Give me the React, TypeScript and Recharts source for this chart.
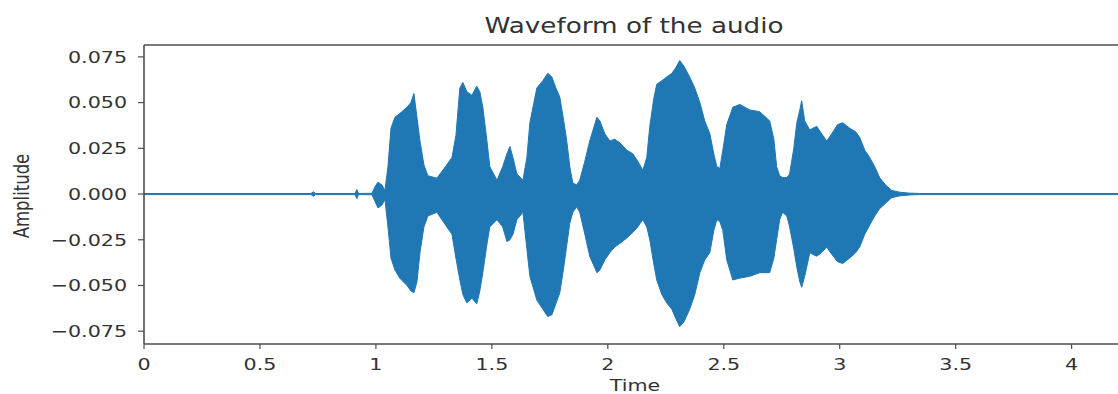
import { AreaChart, Area, XAxis, YAxis, ReferenceLine } from "recharts";

// envelope of the waveform (seconds, upper / lower amplitude)
const times = [
  0, 0.72, 0.73, 0.74, 0.91, 0.918, 0.925, 0.983, 0.996, 1.009, 1.026, 1.039,
  1.052, 1.065, 1.082, 1.103, 1.134, 1.151, 1.164, 1.177, 1.19, 1.207, 1.224,
  1.263, 1.306, 1.328, 1.345, 1.362, 1.375, 1.392, 1.414, 1.435, 1.448, 1.461,
  1.478, 1.491, 1.522, 1.547, 1.565, 1.578, 1.591, 1.608, 1.634, 1.651, 1.664,
  1.694, 1.72, 1.741, 1.759, 1.776, 1.793, 1.81, 1.823, 1.836, 1.849, 1.866,
  1.879, 1.901, 1.922, 1.953, 1.966, 1.987, 2.009, 2.03, 2.052, 2.082, 2.108,
  2.129, 2.151, 2.168, 2.181, 2.198, 2.211, 2.233, 2.254, 2.276, 2.293, 2.31,
  2.328, 2.353, 2.375, 2.397, 2.418, 2.44, 2.457, 2.47, 2.483, 2.496, 2.513,
  2.539, 2.569, 2.612, 2.655, 2.698, 2.716, 2.728, 2.741, 2.754, 2.772, 2.784,
  2.802, 2.815, 2.828, 2.836, 2.849, 2.871, 2.884, 2.901, 2.922, 2.944, 2.966,
  2.991, 3.013, 3.043, 3.069, 3.086, 3.108, 3.129, 3.151, 3.172, 3.198, 3.224,
  3.259, 3.302, 3.345, 4.2,
];

const upper = [
  0.0003, 0.0003, 0.0012, 0.0003, 0.0003, 0.0025, 0.0003, 0.0004, 0.004, 0.0065,
  0.005, 0.002, 0.015, 0.036, 0.042, 0.044, 0.0475, 0.05, 0.055, 0.042, 0.029,
  0.016, 0.01, 0.0087, 0.016, 0.02, 0.032, 0.058, 0.061, 0.056, 0.054, 0.059,
  0.056, 0.0475, 0.03, 0.015, 0.0076, 0.015, 0.022, 0.026, 0.02, 0.011, 0.0076,
  0.02, 0.039, 0.058, 0.062, 0.066, 0.064, 0.058, 0.053, 0.04, 0.029, 0.015,
  0.006, 0.005, 0.0076, 0.018, 0.029, 0.042, 0.04, 0.033, 0.029, 0.03, 0.028,
  0.024, 0.022, 0.018, 0.013, 0.02, 0.037, 0.052, 0.06, 0.062, 0.064, 0.066,
  0.069, 0.073, 0.07, 0.064, 0.058, 0.05, 0.04, 0.033, 0.022, 0.015, 0.014,
  0.024, 0.038, 0.0475, 0.049, 0.046, 0.045, 0.04, 0.03, 0.015, 0.01, 0.009,
  0.009, 0.011, 0.025, 0.039, 0.046, 0.051, 0.04, 0.035, 0.036, 0.037, 0.033,
  0.029, 0.033, 0.038, 0.039, 0.036, 0.034, 0.031, 0.024, 0.02, 0.015, 0.009,
  0.005, 0.002, 0.001, 0.0005, 0.0003, 0.0003,
];

const lower = [
  -0.0003, -0.0003, -0.0012, -0.0003, -0.0003, -0.0025, -0.0003, -0.0004,
  -0.004, -0.0076, -0.006, -0.003, -0.018, -0.035, -0.0415, -0.046, -0.05,
  -0.053, -0.054, -0.048, -0.032, -0.018, -0.012, -0.01, -0.018, -0.022, -0.035,
  -0.047, -0.055, -0.0595, -0.057, -0.06, -0.053, -0.043, -0.028, -0.018,
  -0.014, -0.018, -0.026, -0.025, -0.022, -0.014, -0.01, -0.03, -0.045, -0.058,
  -0.063, -0.067, -0.066, -0.06, -0.054, -0.04, -0.028, -0.016, -0.01, -0.007,
  -0.01, -0.022, -0.034, -0.043, -0.0415, -0.036, -0.032, -0.029, -0.027,
  -0.024, -0.021, -0.018, -0.014, -0.018, -0.025, -0.038, -0.047, -0.055,
  -0.0595, -0.063, -0.068, -0.0725, -0.07, -0.063, -0.055, -0.043, -0.036,
  -0.032, -0.02, -0.014, -0.015, -0.02, -0.036, -0.047, -0.046, -0.045, -0.043,
  -0.043, -0.035, -0.025, -0.014, -0.01, -0.012, -0.018, -0.03, -0.04, -0.048,
  -0.051, -0.045, -0.032, -0.033, -0.034, -0.032, -0.029, -0.033, -0.037,
  -0.038, -0.035, -0.032, -0.029, -0.022, -0.017, -0.012, -0.008, -0.005,
  -0.002, -0.001, -0.0005, -0.0003, -0.0003,
];

const xTicks = [0, 0.5, 1, 1.5, 2, 2.5, 3, 3.5, 4];
const yTicks = [-0.075, -0.05, -0.025, 0, 0.025, 0.05, 0.075];
const Y_MIN = -0.082;
const Y_MAX = 0.0815;

const data = times.map((t, i) => ({ t, range: [lower[i], upper[i]] }));

const FONT = "DejaVu Sans";
const SX = 1.25; // the picture is stretched sideways
const INK = "#333";
const SPINE = "#4d4d4d";

const fmtY = (v: number) => {
  const s = Math.abs(v).toFixed(3);
  return v < 0 ? "\u2212" + s : s;
};

const YTick = (props: any) => {
  const { x, y, payload } = props;
  return (
    <text
      transform={`translate(${x},${y}) scale(${SX},1)`}
      textAnchor="end"
      dominantBaseline="central"
      fontSize={16.5}
      fontFamily={FONT}
      fill={INK}
    >
      {fmtY(payload.value)}
    </text>
  );
};

const XTick = (props: any) => {
  const { x, y, payload } = props;
  return (
    <text
      transform={`translate(${x},${y}) scale(${SX},1)`}
      textAnchor="middle"
      dominantBaseline="central"
      fontSize={16.5}
      fontFamily={FONT}
      fill={INK}
    >
      {String(payload.value)}
    </text>
  );
};

export default function App() {
  return (
    <div
      style={{
        position: "absolute",
        left: 0,
        top: 0,
        width: 1118,
        height: 394,
        background: "#fff",
      }}
    >
      <AreaChart
        width={1118}
        height={394}
        data={data}
        margin={{ top: 45, right: 0, bottom: 0, left: 0 }}
      >
        <XAxis
          dataKey="t"
          type="number"
          domain={[0, 4.2]}
          ticks={xTicks}
          interval={0}
          allowDataOverflow
          height={50}
          tickSize={5}
          tickMargin={15}
          tick={<XTick />}
          axisLine={{ stroke: SPINE, strokeWidth: 1.6 }}
          tickLine={{ stroke: SPINE, strokeWidth: 1.2 }}
        />
        <YAxis
          type="number"
          domain={[Y_MIN, Y_MAX]}
          ticks={yTicks}
          interval={0}
          allowDataOverflow
          width={144}
          tickSize={6}
          tickMargin={11}
          tick={<YTick />}
          axisLine={{ stroke: SPINE, strokeWidth: 1.6 }}
          tickLine={{ stroke: SPINE, strokeWidth: 1.2 }}
        />
        <Area
          type="linear"
          dataKey="range"
          stroke="#1f77b4"
          strokeWidth={1}
          fill="#1f77b4"
          fillOpacity={1}
          dot={false}
          activeDot={false}
          isAnimationActive={false}
        />
        {/* top spine */}
        <ReferenceLine y={Y_MAX} stroke={SPINE} strokeWidth={1.6} ifOverflow="visible" />
      </AreaChart>
      <svg
        width={1118}
        height={394}
        style={{ position: "absolute", left: 0, top: 0, pointerEvents: "none" }}
      >
        <text
          transform={`translate(634,33) scale(1.28,1)`}
          textAnchor="middle"
          fontSize={20.5}
          fontFamily={FONT}
          fill={INK}
        >
          Waveform of the audio
        </text>
        <text
          transform={`translate(635,391) scale(${SX},1)`}
          textAnchor="middle"
          fontSize={16.5}
          fontFamily={FONT}
          fill={INK}
        >
          Time
        </text>
        <text
          transform={`translate(29,196) scale(${SX},1) rotate(-90)`}
          textAnchor="middle"
          fontSize={16.5}
          fontFamily={FONT}
          fill={INK}
        >
          Amplitude
        </text>
      </svg>
    </div>
  );
}
